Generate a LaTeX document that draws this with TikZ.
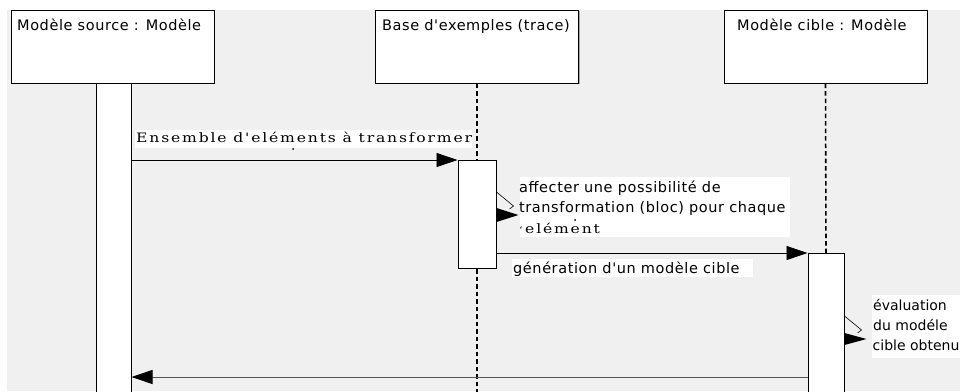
\documentclass[tikz,border=0pt]{standalone}
\usepackage{fontspec}
\newfontfamily\uisans[LetterSpace=4]{DejaVu Sans}
\newfontfamily\uisanstight{DejaVu Sans}
\newfontfamily\msgserif[LetterSpace=14,FakeStretch=1.2]{DejaVu Serif}
\usetikzlibrary{arrows.meta,calc,shadows}
\definecolor{canvas}{HTML}{F0F0F0}
\definecolor{retgray}{HTML}{555555}
\tikzset{
  lifebox/.style={draw, fill=white, line width=1pt, minimum width=203pt,
    minimum height=73pt, inner sep=0pt,
    general shadow={fill=black!35, shadow xshift=1.2pt, shadow yshift=-1.2pt}},
  actbar/.style={draw, fill=white, line width=1pt, inner sep=0pt, anchor=north},
  lifeline/.style={line width=1.6pt, dash pattern=on 4.5pt off 3pt},
  msg/.style={line width=0.8pt, -{Triangle[length=21pt,width=14pt]}},
  retmsg/.style={line width=1pt, draw=retgray,
    -{Triangle[length=21pt,width=14pt,color=black,fill=black]}},
  selfline/.style={line width=0.6pt},
  txt/.style={font=\uisans\fontsize{14.5}{17}\selectfont, anchor=base west, inner sep=0pt},
  ttxt/.style={font=\uisanstight\fontsize{14}{17}\selectfont, anchor=base west, inner sep=0pt},
  stxt/.style={font=\msgserif\fontsize{13}{15}\selectfont, anchor=base west, inner sep=0pt},
  notebg/.style={fill=white, inner sep=0pt, anchor=north west}
}
\begin{document}
\begin{tikzpicture}[x=1pt,y=-1pt]
\useasboundingbox (0,0) rectangle (960,391);
\clip (0,0) rectangle (960,391);
\fill[white] (0,0) rectangle (960,391);
\fill[canvas] (7,10) rectangle (960,391);

% object heads
\node[lifebox] (src) at (112.5,46.5) {};
\node[lifebox] (base) at (477,46.5) {};
\node[lifebox] (tgt) at (825.5,46.5) {};
\node[txt] (srcname) at (17,30) {Modèle source : Modèle};
\node[txt] (basename) at (382,30) {Base d'exemples (trace)};
\node[txt] (tgtname) at (737,30) {Modèle cible : Modèle};

% activation bars
\node[actbar, minimum width=35pt, minimum height=330pt] (act1) at (113.5,83) {};
\node[actbar, minimum width=38pt, minimum height=108pt] (act2) at (477,160) {};
\node[actbar, minimum width=36pt, minimum height=150pt] (act3) at (826,253) {};

% lifelines
\coordinate (baseend) at (477,395);
\draw[lifeline] (base.south) -- (act2.north);
\draw[lifeline] (act2.south) -- (baseend);
\draw[lifeline] (tgt.south) -- (act3.north);

% message 1
\node[notebg, minimum width=337pt, minimum height=18pt] (m1bg) at (135,130) {};
\node[stxt] (m1txt) at (136,142) {Ensemble d'eléments à transformer};
\fill (293,149) circle (1);
\draw[msg] (act1.north east |- act2.north west) -- (act2.north west);

% self call on the example base
\node[notebg, minimum width=270pt, minimum height=60pt] (s1bg) at (520,177) {};
\node[txt] (s1a) at (519,192) {affecter une possibilité de};
\node[txt] (s1b) at (519,212) {transformation (bloc) pour chaque};
\node[stxt] (s1q) at (519,233) {\fontsize{9}{10}\selectfont ‘};
\node[stxt] (s1c) at (525,233) {elément};
\fill (575,220) circle (1);
\draw[selfline] ($(act2.north east)+(0,32)$) -- ++(17,14) -- ++(-4,3);
\fill ($(act2.north east)+(0,48)$) -- ++(22,7) -- ++(-22,7) -- cycle;

% message 2
\node[notebg, minimum width=241pt, minimum height=18pt] (m2bg) at (512,259) {};
\node[txt] (m2txt) at (513,273) {génération d'un modèle cible};
\draw[msg] (act2.east |- act3.north west) -- (act3.north west);

% self call on the target model
\node[notebg, minimum width=90pt, minimum height=63pt] (s2bg) at (872,295) {};
\node[ttxt] (s2a) at (873,310) {évaluation};
\node[ttxt] (s2b) at (873,330) {du modéle};
\node[ttxt] (s2c) at (872.5,350) {cible obtenu};
\draw[selfline] ($(act3.north east)+(0,63)$) -- ++(17,14) -- ++(-4,3);
\fill ($(act3.north east)+(0,80)$) -- ++(22,6) -- ++(-22,6) -- cycle;

% return message
\coordinate (retlevel) at (0,377);
\draw[retmsg] (act3.west |- retlevel) -- (act1.east |- retlevel);
\end{tikzpicture}
\end{document}
